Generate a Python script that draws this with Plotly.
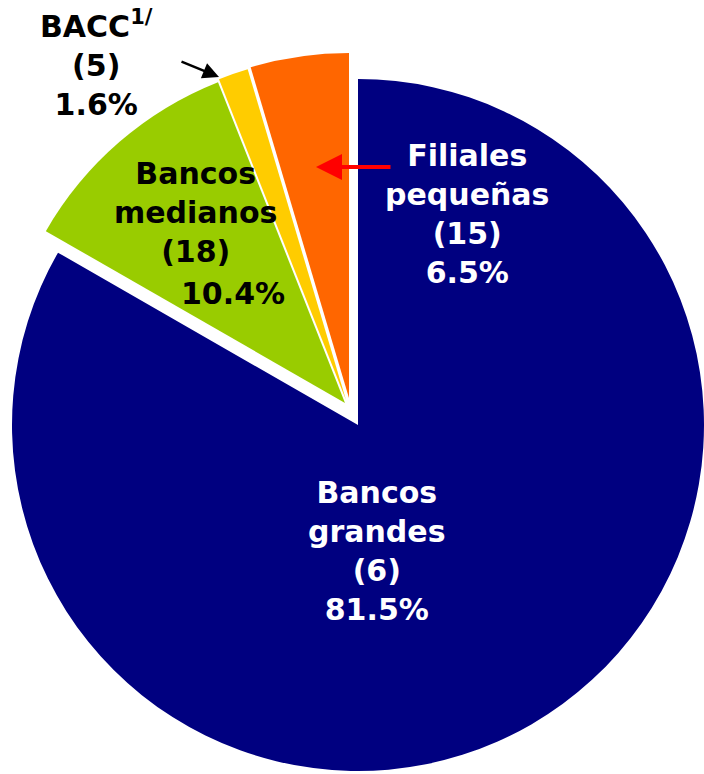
import plotly.graph_objects as go

# slices in drawing order, clockwise from 12 o'clock
groups = ["Bancos grandes", "Bancos medianos", "BACC", "Filiales pequeñas"]
slice_share = [83.3, 10.7, 1.4, 4.6]          # share of the circle as drawn
bank_counts = [6, 18, 5, 15]
pct_labels = ["81.5%", "10.4%", "1.6%", "6.5%"]

COLORS = ["#000080", "#99CC00", "#FFCC00", "#FF6600"]

W, H = 704, 774
FONT = "DejaVu Sans"

# exploded slices: (centre x, centre y, radius) in pixels
SLICE_POS = [
    (358, 425, 346),
    (345, 403, 345),
    (346, 400, 345),
    (349, 398, 345),
]


def px(x):
    return x / W


def py(y):
    return 1 - y / H


fig = go.Figure()

for i, (cx, cy, r) in enumerate(SLICE_POS):
    colors = ["rgba(0,0,0,0)"] * len(groups)
    colors[i] = COLORS[i]
    fig.add_trace(go.Pie(
        labels=groups,
        values=slice_share,
        sort=False,
        direction="clockwise",
        rotation=0,
        marker=dict(colors=colors, line=dict(width=0)),
        textinfo="none",
        hoverinfo="skip",
        showlegend=False,
        domain=dict(x=[max(0, px(cx - r)), min(1, px(cx + r))],
                    y=[max(0, py(cy + r)), min(1, py(cy - r))]),
    ))


def label(text, x, y, color):
    fig.add_annotation(
        text=text, x=px(x), y=py(y), xref="paper", yref="paper",
        showarrow=False, xanchor="center", yanchor="middle",
        font=dict(family=FONT, size=30, color=color, weight="bold"),
    )


label(f"Bancos<br>grandes<br>({bank_counts[0]})<br>{pct_labels[0]}", 377, 551, "white")
label(f"Bancos<br>medianos<br>({bank_counts[1]})", 196, 212, "black")
label(pct_labels[1], 233, 293, "black")
label(f"Filiales<br>pequeñas<br>({bank_counts[3]})<br>{pct_labels[3]}", 467, 214, "white")
label(f"BACC<sup>1/</sup><br>({bank_counts[2]})<br>{pct_labels[2]}", 96, 64, "black")

# pointer arrows
fig.add_annotation(
    x=px(316), y=py(167), xref="paper", yref="paper", text="",
    showarrow=True, ax=76, ay=0, arrowhead=2, arrowsize=1.3,
    arrowwidth=4, arrowcolor="#FF0000", standoff=0,
)
fig.add_annotation(
    x=px(219), y=py(77), xref="paper", yref="paper", text="",
    showarrow=True, ax=-39, ay=-16, arrowhead=2, arrowsize=1.3,
    arrowwidth=2.5, arrowcolor="black", standoff=0,
)

fig.update_layout(
    width=W, height=H,
    margin=dict(l=0, r=0, t=0, b=0),
    paper_bgcolor="white",
    plot_bgcolor="white",
)

# drop the default page margin so the figure fills the window
fig.write_html(
    "out.html",
    config={"displayModeBar": False},
    post_script="document.body.style.margin = '0';",
)
